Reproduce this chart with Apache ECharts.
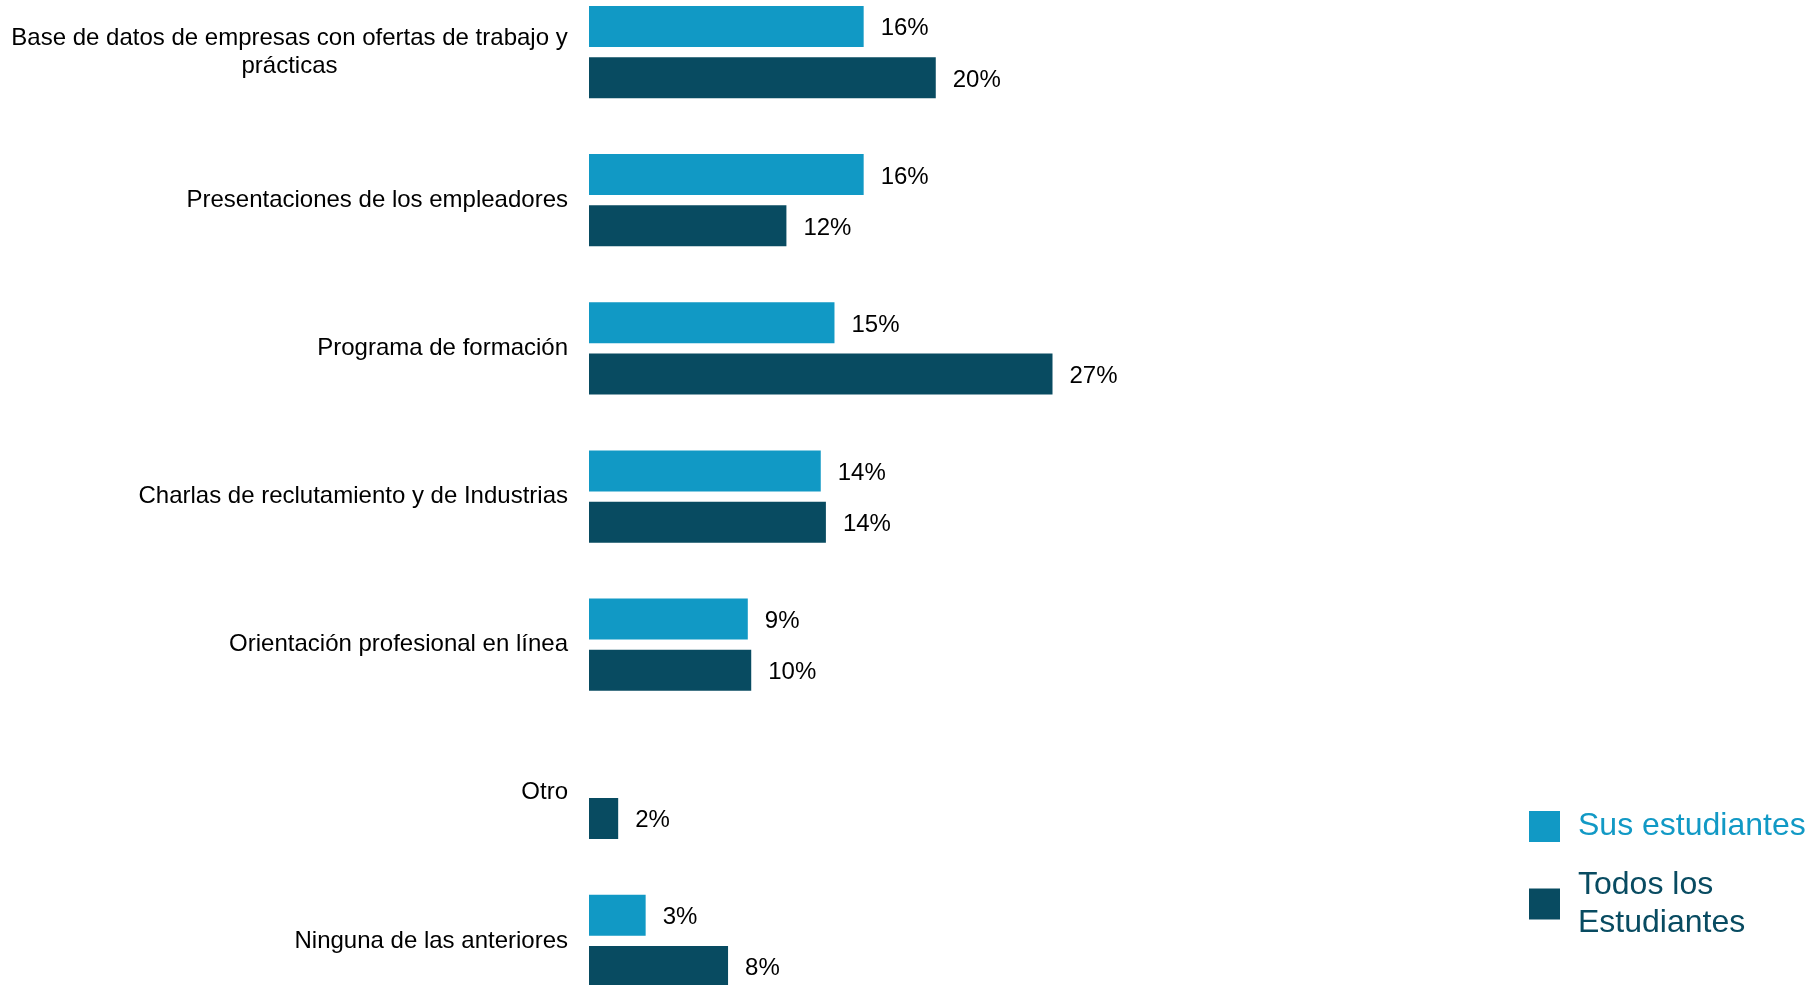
<!DOCTYPE html>
<html>
<head>
<meta charset="utf-8">
<script src="https://cdn.jsdelivr.net/npm/echarts@6/dist/echarts.min.js"></script>
<style>
html,body{margin:0;padding:0;background:#fff;}
#chart{width:1819px;height:985px;}
</style>
</head>
<body>
<div id="chart"></div>
<script>
const categories = [
  "Base de datos de empresas con ofertas de trabajo y\nprácticas",
  "Presentaciones de los empleadores",
  "Programa de formación",
  "Charlas de reclutamiento y de Industrias",
  "Orientación profesional en línea",
  "Otro",
  "Ninguna de las anteriores"
];
const seriesNames = ["Sus estudiantes", "Todos los Estudiantes"];
const susValues = [16, 16, 14.3, 13.5, 9.25, null, 3.3];
const todosValues = [20.2, 11.5, 27, 13.8, 9.45, 1.7, 8.1];
const susLabels = ["16%", "16%", "15%", "14%", "9%", "", "3%"];
const todosLabels = ["20%", "12%", "27%", "14%", "10%", "2%", "8%"];

const colSus = "#1199C5";
const colTodos = "#084B61";
const FONT = "Liberation Sans, Arial, sans-serif";

const chart = echarts.init(document.getElementById('chart'), null, {renderer: 'canvas'});

const yData = categories.map((c, i) => i === 0
  ? {value: c, textStyle: {align: 'center', padding: [3, 557, 0, 0]}}
  : c);

function labelCfg(labels) {
  return {
    show: true,
    position: 'right',
    distance: 17,
    offset: [0, 2.3],
    fontFamily: FONT,
    fontSize: 24,
    color: '#000',
    formatter: p => labels[p.dataIndex]
  };
}

chart.setOption({
  animation: false,
  backgroundColor: '#fff',
  textStyle: {fontFamily: FONT},
  grid: {left: 589, top: -22, width: 515, height: 1037, containLabel: false, outerBoundsMode: 'none'},
  xAxis: {type: 'value', min: 0, max: 30, show: false, splitLine: {show: false}},
  yAxis: {
    type: 'category',
    inverse: true,
    data: yData,
    axisLine: {show: false},
    axisTick: {show: false},
    axisLabel: {
      margin: 21,
      fontFamily: FONT,
      fontSize: 24,
      lineHeight: 28,
      color: '#000',
      padding: [4, 0, 0, 0],
      interval: 0
    }
  },
  legend: {
    orient: 'vertical',
    left: 1529,
    top: 803.5,
    padding: 0,
    itemWidth: 31,
    itemHeight: 31,
    itemGap: 10.5,
    icon: 'rect',
    formatter: n => n.replace(' los ', ' los\n'),
    textStyle: {fontFamily: FONT, fontSize: 32, lineHeight: 38},
    data: [
      {name: seriesNames[0], textStyle: {color: colSus, padding: [8, 0, 0, 13]}},
      {name: seriesNames[1], textStyle: {color: colTodos, padding: [12, 0, 0, 13]}}
    ]
  },
  series: [
    {
      name: seriesNames[0],
      type: 'bar',
      data: susValues,
      barWidth: 41,
      barGap: '25%',
      itemStyle: {color: colSus},
      label: labelCfg(susLabels)
    },
    {
      name: seriesNames[1],
      type: 'bar',
      data: todosValues,
      barWidth: 41,
      barGap: '25%',
      itemStyle: {color: colTodos},
      label: labelCfg(todosLabels)
    }
  ]
});
</script>
</body>
</html>
